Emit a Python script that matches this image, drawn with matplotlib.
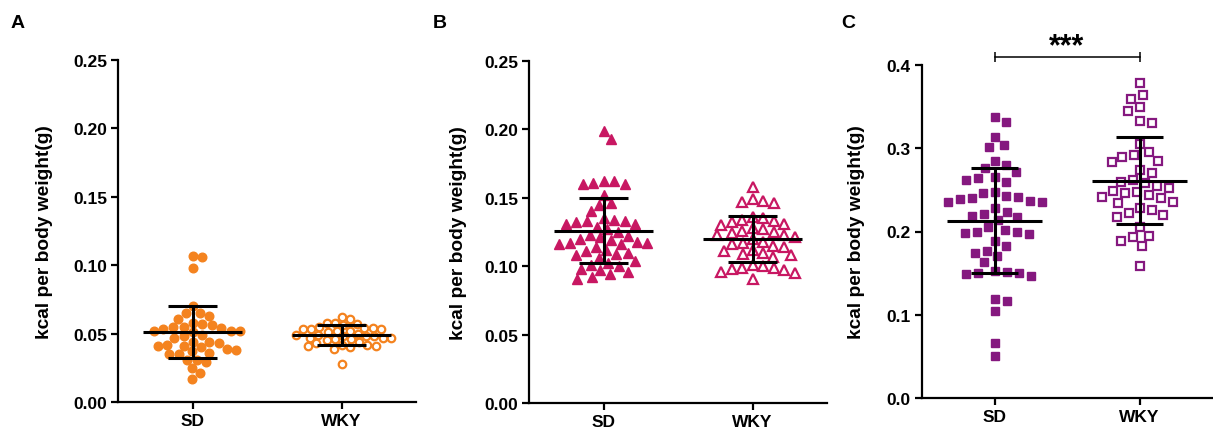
import numpy as np
import matplotlib
matplotlib.use("Agg")
import matplotlib.pyplot as plt

plt.rcParams['font.family'] = ['Liberation Sans', 'DejaVu Sans']
plt.rcParams['font.weight'] = 'bold'

groups = ['SD', 'WKY']

# panel A
a_sd = [0.107, 0.106, 0.098, 0.070, 0.065, 0.065, 0.063, 0.061, 0.058, 0.057, 0.056,
        0.055, 0.055, 0.054, 0.053, 0.052, 0.052, 0.052, 0.051, 0.049, 0.048, 0.047,
        0.044, 0.044, 0.043, 0.042, 0.041, 0.041, 0.040, 0.039, 0.038, 0.037, 0.036,
        0.035, 0.035, 0.031, 0.031, 0.029, 0.025, 0.021, 0.017]
a_wky = [0.062, 0.061, 0.058, 0.058, 0.057, 0.056, 0.055, 0.054, 0.054, 0.053, 0.053,
         0.053, 0.052, 0.052, 0.051, 0.050, 0.049, 0.049, 0.048, 0.048, 0.048, 0.047,
         0.047, 0.047, 0.046, 0.046, 0.045, 0.044, 0.043, 0.042, 0.042, 0.041, 0.041,
         0.040, 0.039, 0.028]
a_mean = [0.051, 0.049]
a_sdev = [0.019, 0.007]

# panel B
b_sd = [0.199, 0.193, 0.162, 0.162, 0.161, 0.160, 0.160, 0.152, 0.146, 0.145, 0.140,
        0.135, 0.134, 0.133, 0.133, 0.132, 0.131, 0.131, 0.129, 0.127, 0.125, 0.123,
        0.122, 0.121, 0.120, 0.119, 0.118, 0.117, 0.117, 0.116, 0.116, 0.114, 0.112,
        0.111, 0.110, 0.109, 0.108, 0.106, 0.104, 0.102, 0.101, 0.100, 0.098, 0.097,
        0.096, 0.094, 0.092, 0.091]
b_wky = [0.158, 0.149, 0.148, 0.147, 0.146, 0.136, 0.135, 0.134, 0.133, 0.132, 0.131,
         0.130, 0.128, 0.127, 0.126, 0.125, 0.124, 0.123, 0.123, 0.121, 0.120, 0.118,
         0.117, 0.116, 0.115, 0.114, 0.112, 0.111, 0.110, 0.109, 0.108, 0.107, 0.101,
         0.100, 0.099, 0.099, 0.098, 0.097, 0.096, 0.095, 0.091]
b_mean = [0.126, 0.120]
b_sdev = [0.024, 0.017]

# panel C
c_sd = [0.337, 0.332, 0.314, 0.304, 0.301, 0.285, 0.280, 0.276, 0.271, 0.266, 0.264,
        0.262, 0.260, 0.248, 0.246, 0.243, 0.241, 0.240, 0.239, 0.237, 0.236, 0.235,
        0.228, 0.224, 0.221, 0.219, 0.217, 0.214, 0.205, 0.202, 0.200, 0.199, 0.198,
        0.197, 0.188, 0.183, 0.177, 0.174, 0.170, 0.163, 0.152, 0.151, 0.150, 0.150,
        0.149, 0.147, 0.119, 0.116, 0.104, 0.066, 0.050]
c_wky = [0.378, 0.364, 0.359, 0.349, 0.345, 0.333, 0.330, 0.305, 0.295, 0.292, 0.290,
         0.285, 0.283, 0.274, 0.270, 0.262, 0.260, 0.258, 0.255, 0.252, 0.249, 0.247,
         0.246, 0.244, 0.242, 0.240, 0.236, 0.234, 0.228, 0.226, 0.222, 0.220, 0.218,
         0.205, 0.195, 0.193, 0.189, 0.183, 0.158]
c_mean = [0.213, 0.261]
c_sdev = [0.063, 0.052]

W, H = 1213, 435
fig = plt.figure(figsize=(W / 100, H / 100), dpi=100)


def swarm(vals, ax, d):
    """simple beeswarm offsets in data units, collisions checked in pixels"""
    fig.canvas.draw()
    bb = ax.get_window_extent()
    x0, x1 = ax.get_xlim()
    y0, y1 = ax.get_ylim()
    sx = bb.width / (x1 - x0)
    sy = bb.height / (y1 - y0)
    order = np.argsort(vals)[::-1]
    placed = []
    offs = np.zeros(len(vals))
    for i in order:
        py = vals[i] * sy
        best = None
        for k in range(0, 200):
            for sgn in (1, -1):
                px = sgn * k * 0.5
                if all((px - qx) ** 2 + (py - qy) ** 2 >= d * d for qx, qy in placed):
                    best = px
                    break
            if best is not None:
                break
        placed.append((best, py))
        offs[i] = best / sx
    return offs


def panel(rect, sd_vals, wky_vals, means, sdevs, ymax, ystep, fmt, color, marker,
          msize, spacing, label, lab_x, labcoord):
    ax = fig.add_axes(rect)
    ax.set_xlim(-0.5, 1.5)
    ax.set_ylim(0, ymax)
    for s in ('top', 'right'):
        ax.spines[s].set_visible(False)
    for s in ('left', 'bottom'):
        ax.spines[s].set_linewidth(1.6)
    ax.set_yticks(np.arange(0, ymax + 1e-9, ystep))
    ax.yaxis.set_major_formatter(matplotlib.ticker.FormatStrFormatter(fmt))
    ax.set_xticks([0, 1])
    ax.set_xticklabels(groups)
    ax.tick_params(width=1.6, length=5, labelsize=12.5, pad=3)
    ax.set_ylabel('kcal per body weight(g)', fontsize=13.8, fontweight='bold')
    ax.yaxis.set_label_coords(labcoord, 0.5)

    for gi, vals in enumerate([sd_vals, wky_vals]):
        vals = np.array(vals)
        offs = swarm(vals, ax, spacing[gi])
        if gi == 0:
            ax.plot(gi + offs, vals, linestyle='none', marker=marker, ms=msize,
                    color=color, mec=color, clip_on=False, zorder=2)
        else:
            ax.plot(gi + offs, vals, linestyle='none', marker=marker, ms=msize - 0.8,
                    mfc='white', mec=color, mew=1.6, clip_on=False, zorder=2)
        m, s = means[gi], sdevs[gi]
        ax.hlines(m, gi - 0.33, gi + 0.33, color='black', lw=2.2, zorder=3)
        ax.vlines(gi, m - s, m + s, color='black', lw=2.2, zorder=3)
        ax.hlines([m - s, m + s], gi - 0.165, gi + 0.165, color='black', lw=2.2, zorder=3)

    fig.text(lab_x, 1 - 23 / H, label, fontsize=14, fontweight='bold', va='center')
    return ax


axA = panel([118 / W, 1 - 403 / H, 298 / W, 342 / H], a_sd, a_wky, a_mean, a_sdev,
            0.25, 0.05, '%.2f', '#F4831F', 'o', 6.2, (9.5, 8.3), 'A', 11 / W, -0.218)
axB = panel([529 / W, 1 - 404 / H, 298 / W, 342 / H], b_sd, b_wky, b_mean, b_sdev,
            0.25, 0.05, '%.2f', '#C81762', '^', 7.6, (10.5, 10.5), 'B', 433 / W, -0.208)
axC = panel([922 / W, 1 - 399 / H, 290 / W, 333 / H], c_sd, c_wky, c_mean, c_sdev,
            0.4, 0.1, '%.1f', '#85187F', 's', 6.4, (12.0, 12.0), 'C', 841 / W, -0.197)

# significance bracket
yb = 0.41
axC.plot([0, 1], [yb, yb], color='black', lw=1.1, clip_on=False)
axC.vlines([0, 1], yb - 0.006, yb + 0.006, color='black', lw=1.1, clip_on=False)
axC.text(0.5, 0.4125, '***', ha='center', va='baseline', fontsize=22, fontweight='bold')

fig.savefig('out.png', dpi=100)
